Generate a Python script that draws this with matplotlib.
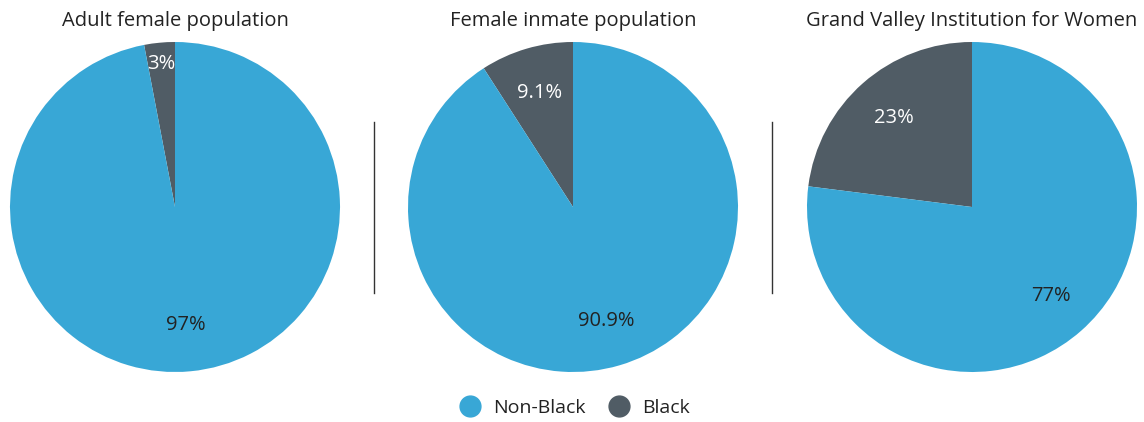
import numpy as np
import matplotlib
matplotlib.use('Agg')
import matplotlib.pyplot as plt
from matplotlib.lines import Line2D

plt.rcParams['font.family'] = ['Open Sans', 'DejaVu Sans']

# share of each group, per population
titles = ['Adult female population', 'Female inmate population', 'Grand Valley Institution for Women']
groups = ['Black', 'Non-Black']
black = [3, 9.1, 23]
non_black = [97, 90.9, 77]
pct_labels = [['3%', '97%'], ['9.1%', '90.9%'], ['23%', '77%']]

colors = {'Black': '#505c65', 'Non-Black': '#38a7d6'}

W, H = 1144, 422
fig = plt.figure(figsize=(W / 100, H / 100), dpi=100)

lefts = [10, 408, 807]
r = 165
for i in range(3):
    ax = fig.add_axes([lefts[i] / W, 50 / H, 2 * r / W, 2 * r / H])
    vals = [black[i], non_black[i]]
    wedges, _ = ax.pie(vals, colors=[colors[g] for g in groups], startangle=90,
                       counterclock=True, radius=1, wedgeprops=dict(linewidth=0))
    # labels inside each slice; the thin 3% slice gets its label pushed outwards
    for w, lab, g in zip(wedges, pct_labels[i], groups):
        ang = np.deg2rad((w.theta1 + w.theta2) / 2)
        d = 0.87 if lab == '3%' else 0.72
        ax.text(d * np.cos(ang), d * np.sin(ang), lab, ha='center', va='center',
                fontsize=14.5, color='white' if g == 'Black' else '#222222')
    ax.set_xlim(-1, 1)
    ax.set_ylim(-1, 1)
    ax.set_aspect('equal')
    ax.axis('off')
    fig.text((lefts[i] + r) / W, 401 / H, titles[i], ha='center', va='center',
             fontsize=14.5, color='#222222')

# thin dividers between the pies
for x in [374, 772]:
    fig.add_artist(Line2D([x / W, x / W], [(H - 293) / H, (H - 122) / H],
                          color='#333333', linewidth=1))

handles = [Line2D([], [], marker='o', linestyle='', markersize=15,
                  color=colors[g]) for g in ['Non-Black', 'Black']]
fig.legend(handles, ['Non-Black', 'Black'], loc='center', bbox_to_anchor=(570 / W, 14 / H),
           ncol=2, frameon=False, fontsize=14, handletextpad=0.2, columnspacing=0.7,
           labelcolor='#222222')

fig.savefig('out.png', dpi=100)
